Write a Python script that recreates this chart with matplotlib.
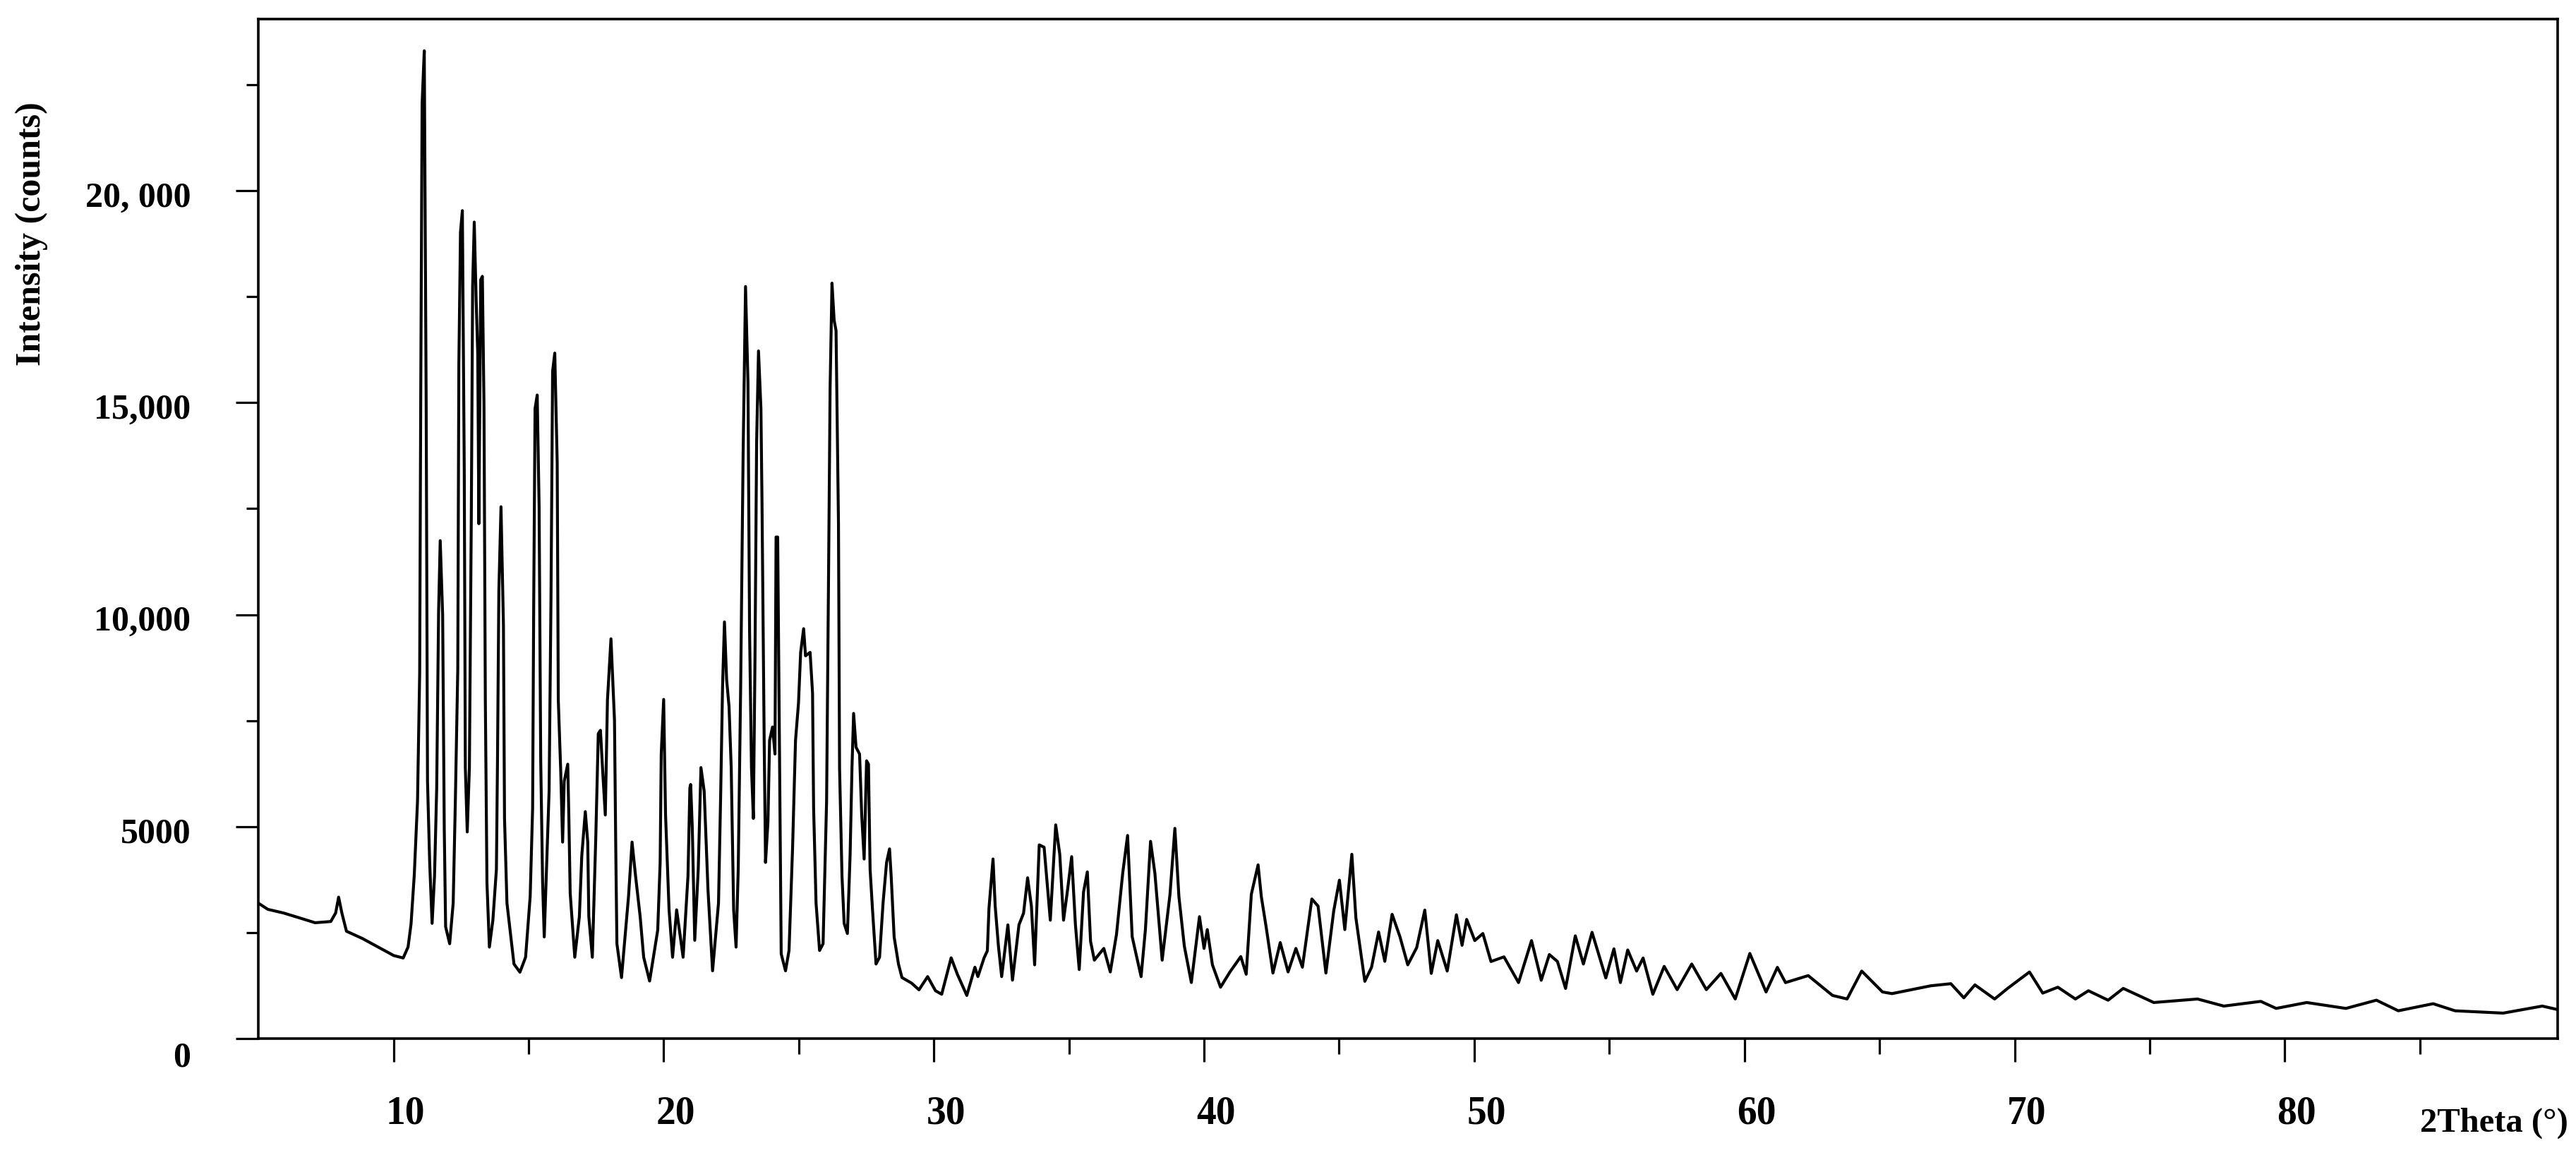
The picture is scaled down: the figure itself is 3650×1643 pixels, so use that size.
import matplotlib
matplotlib.use("Agg")
import matplotlib.pyplot as plt
import matplotlib.transforms as mtransforms
from matplotlib.ticker import FixedLocator

# XRD pattern: 2theta (deg) and intensity (counts)
two_theta = [
    5.00, 5.35, 5.93, 6.52, 7.10, 7.68, 7.86, 7.97, 8.09, 8.26, 8.85, 9.43,
    10.01, 10.36, 10.54, 10.65, 10.77, 10.89, 10.97, 11.01, 11.06, 11.14,
    11.21, 11.26, 11.34, 11.43, 11.52, 11.60, 11.67, 11.73, 11.82, 11.88,
    11.93, 12.08, 12.21, 12.29, 12.38, 12.42, 12.48, 12.55, 12.62, 12.66,
    12.73, 12.81, 12.88, 12.93, 12.99, 13.06, 13.12, 13.16, 13.23, 13.29,
    13.35, 13.40, 13.46, 13.55, 13.68, 13.81, 13.85, 13.90, 13.98, 14.07,
    14.11, 14.20, 14.46, 14.68, 14.89, 15.06, 15.15, 15.19, 15.24, 15.32,
    15.39, 15.45, 15.52, 15.58, 15.76, 15.83, 15.89, 15.97, 16.06, 16.10,
    16.19, 16.26, 16.32, 16.45, 16.49, 16.54, 16.71, 16.88, 16.97, 17.10,
    17.19, 17.23, 17.36, 17.49, 17.58, 17.66, 17.75, 17.84, 17.92, 18.05,
    18.18, 18.23, 18.27, 18.44, 18.70, 18.83, 18.96, 19.13, 19.26, 19.48,
    19.78, 19.87, 19.91, 20.00, 20.07, 20.20, 20.33, 20.48, 20.72, 20.90,
    20.97, 21.00, 21.06, 21.15, 21.28, 21.38, 21.50, 21.64, 21.81, 22.03,
    22.11, 22.18, 22.25, 22.33, 22.42, 22.50, 22.59, 22.68, 22.76, 22.85,
    22.94, 23.03, 23.12, 23.18, 23.25, 23.32, 23.38, 23.44, 23.51, 23.60,
    23.64, 23.72, 23.77, 23.86, 23.92, 24.03, 24.12, 24.16, 24.22, 24.29,
    24.35, 24.51, 24.64, 24.77, 24.88, 24.99, 25.07, 25.18, 25.25, 25.42,
    25.51, 25.55, 25.64, 25.77, 25.90, 26.03, 26.10, 26.16, 26.23, 26.31,
    26.38, 26.47, 26.51, 26.60, 26.68, 26.80, 26.90, 26.97, 27.03, 27.12,
    27.25, 27.33, 27.42, 27.51, 27.58, 27.64, 27.73, 27.86, 27.99, 28.12,
    28.25, 28.36, 28.42, 28.53, 28.69, 28.82, 29.17, 29.45, 29.77, 30.06,
    30.29, 30.64, 30.87, 31.22, 31.52, 31.63, 31.86, 31.98, 32.04, 32.19,
    32.27, 32.39, 32.51, 32.74, 32.91, 33.15, 33.32, 33.47, 33.61, 33.73,
    33.90, 34.08, 34.31, 34.51, 34.66, 34.80, 34.95, 35.10, 35.24, 35.38,
    35.54, 35.68, 35.80, 35.94, 36.29, 36.53, 36.76, 36.99, 37.17, 37.34,
    37.67, 37.83, 38.02, 38.18, 38.45, 38.74, 38.92, 39.07, 39.27, 39.53,
    39.83, 40.00, 40.12, 40.31, 40.61, 40.96, 41.36, 41.56, 41.75, 42.00,
    42.12, 42.30, 42.55, 42.82, 43.11, 43.40, 43.64, 43.99, 44.22, 44.51,
    44.80, 45.01, 45.21, 45.47, 45.62, 45.95, 46.20, 46.46, 46.69, 46.96,
    47.25, 47.54, 47.87, 48.17, 48.41, 48.65, 49.00, 49.34, 49.55, 49.72,
    50.02, 50.32, 50.62, 51.10, 51.64, 52.12, 52.48, 52.78, 53.08, 53.38,
    53.74, 54.04, 54.36, 54.87, 55.17, 55.41, 55.68, 56.01, 56.25, 56.61,
    57.03, 57.51, 58.05, 58.59, 59.13, 59.66, 60.20, 60.80, 61.22, 61.52,
    62.36, 63.26, 63.80, 64.34, 65.11, 65.46, 66.90, 67.64, 68.12, 68.53,
    69.26, 69.74, 70.55, 71.04, 71.60, 72.25, 72.73, 73.46, 74.02, 75.15,
    76.77, 77.74, 79.11, 79.68, 80.81, 82.26, 83.39, 84.20, 85.49, 86.30,
    88.08, 89.53, 90.10,
]
intensity = [
    3193, 3048, 2962, 2847, 2732, 2761, 2962, 3336, 2962, 2532, 2360, 2159,
    1958, 1901, 2159, 2700, 3860, 5600, 8630, 15260, 22050, 23300,
    15020, 6070, 4155, 2717, 3835, 5910, 10070, 11745, 9990, 4955,
    2637, 2237, 3196, 5593, 8710, 15900, 19020, 19530, 13420, 6392,
    4874, 6392, 12225, 17740, 19260, 17420, 16140, 12145, 17900, 17980,
    14940, 7990, 3675, 2157, 2797, 3995, 6552, 10550, 12545, 9750,
    5193, 3196, 1758, 1566, 1918, 3356, 5433, 10230, 14860, 15180,
    12545, 6552, 3675, 2397, 5833, 10390, 15740, 16170, 13580, 7990,
    6312, 4634, 6072, 6472, 5273, 3436, 1918, 2877, 4315, 5353,
    4634, 2877, 1918, 4794, 7191, 7271, 6232, 5273, 7990, 9430,
    7510, 4315, 2237, 1438, 3356, 4634, 3835, 2877, 1918, 1358,
    2557, 4155, 6712, 8000, 5273, 3036, 1918, 3036, 1918, 3835,
    5913, 5993, 4954, 2317, 3995, 6392, 5833, 3516, 1598, 3196,
    5753, 8310, 9828, 8469, 7830, 6392, 3036, 2157, 3995, 8310,
    13740, 17740, 15500, 9590, 6392, 5193, 8949, 14060, 16220, 14860,
    12620, 7031, 4155, 5113, 7031, 7350, 6712, 11830, 11830, 6552,
    1998, 1598, 2077, 4474, 7031, 7910, 9109, 9668, 9029, 9109,
    8150, 5433, 3196, 2077, 2237, 5593, 10710, 15340, 17820, 16940,
    16700, 12150, 6392, 3835, 2717, 2477, 4315, 6392, 7670, 6872,
    6712, 5273, 4235, 6552, 6472, 3995, 3036, 1758, 1918, 3196,
    4155, 4474, 3835, 2397, 1758, 1438, 1310, 1150, 1461, 1128,
    1045, 1905, 1517, 1017, 1683, 1461, 1905, 2070, 3070, 4236,
    3125, 2181, 1461, 2681, 1378, 2681, 2958, 3792, 3125, 1739,
    4569, 4513, 2792, 5041, 4347, 2792, 3514, 4291, 2681, 1628,
    3458, 3931, 2292, 1850, 2126, 1572, 2459, 3903, 4791, 2403,
    1461, 2570, 4652, 3903, 1850, 3403, 4958, 3347, 2181, 1322,
    2875, 2126, 2570, 1739, 1211, 1572, 1933, 1517, 3403, 4097,
    3347, 2625, 1545, 2264, 1572, 2126, 1683, 3292, 3125, 1545,
    3014, 3736, 2570, 4347, 2847, 1350, 1683, 2514, 1822, 2931,
    2403, 1739, 2144, 3030, 1537, 2311, 1592, 2920, 2200, 2810,
    2311, 2478, 1817, 1927, 1320, 2311, 1375, 1982, 1817, 1182,
    2423, 1758, 2506, 1430, 2117, 1320, 2090, 1592, 1900, 1044,
    1702, 1154, 1758, 1154, 1537, 934, 2007, 1099, 1679, 1320,
    1485, 1017, 934, 1592, 1099, 1060, 1245, 1294, 961, 1266,
    933, 1183, 1570, 1072, 1211, 933, 1128, 905, 1183, 850,
    933, 766, 877, 711, 850, 711, 905, 655, 822, 655,
    600, 766, 683,
]

x_major = [10, 20, 30, 40, 50, 60, 70, 80]
x_minor = [15, 25, 35, 45, 55, 65, 75, 85]
y_major = [0, 5000, 10000, 15000, 20000]
y_labels = ["0", "5000", "10,000", "15,000", "20, 000"]
y_minor = [2500, 7500, 12500, 17500, 22500]

plt.rcParams["font.family"] = ["Liberation Serif", "DejaVu Serif"]
plt.rcParams["font.weight"] = "bold"

fig = plt.figure(figsize=(36.5, 16.43), dpi=100)
ax = fig.add_axes([0.1003, 0.1047, 0.8926, 0.8789])

ax.plot(two_theta, intensity, color="black", linewidth=3.0)

ax.set_xlim(5.0, 90.1)
ax.set_ylim(0, 24050)

ax.xaxis.set_major_locator(FixedLocator(x_major))
ax.xaxis.set_minor_locator(FixedLocator(x_minor))
ax.set_yticks(y_major)
ax.set_yticklabels(y_labels)
ax.yaxis.set_minor_locator(FixedLocator(y_minor))

for s in ax.spines.values():
    s.set_linewidth(2.6)

ax.tick_params(axis="x", which="major", length=24, width=2.3, direction="out",
               labelsize=40, pad=34)
ax.tick_params(axis="x", which="minor", length=16, width=2.3, direction="out")
ax.tick_params(axis="y", which="major", length=23, width=2.3, direction="out",
               labelsize=36, pad=46)
ax.tick_params(axis="y", which="minor", length=12, width=2.3, direction="out")
ax.tick_params(top=False, right=False)

# labels in the original sit a bit off their ticks
dx = mtransforms.ScaledTranslation(0.17, 0, fig.dpi_scale_trans)
for lab in ax.get_xticklabels():
    lab.set_transform(lab.get_transform() + dx)
for lab, v in zip(ax.get_yticklabels(), y_major):
    off = -0.22 if v == 0 else -0.05
    lab.set_transform(lab.get_transform() +
                      mtransforms.ScaledTranslation(0, off, fig.dpi_scale_trans))

fig.text(0.997, 0.0243, "2Theta (\u00b0)", fontsize=35, fontweight="bold",
         ha="right", va="baseline")
fig.text(0.0123, 0.7985, "Intensity (counts)", fontsize=36, fontweight="bold",
         rotation=90, ha="center", va="center")

fig.savefig("out.png", dpi=100)
